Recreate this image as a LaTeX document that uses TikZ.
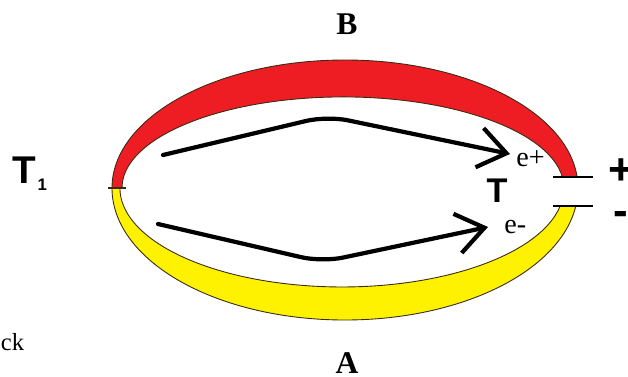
\documentclass[tikz,border=0pt]{standalone}
\usepackage{fontspec}
\setmainfont{Liberation Serif}
\newfontfamily\armfont{Liberation Sans}
\usetikzlibrary{arrows.meta}
\definecolor{ringred}{HTML}{EE1D23}
\definecolor{ringyellow}{HTML}{FFF200}
\definecolor{rimline}{HTML}{3A2A14}

\begin{document}
\begin{tikzpicture}[x=0.02cm, y=0.02cm,
  >={Straight Barb[length=0.55cm, width=0.8cm]},
  band/.style={draw=rimline, line width=0.5pt},
  flow/.style={black, line width=2.4pt, line cap=round, line join=round, rounded corners=12pt, ->},
  plate/.style={black, line width=1.7pt}]

% Frame (picture size 628 x 376)
\useasboundingbox (0,0) rectangle (628,376);

% Red half of the ring (B side)
% outer: centre (345,188), 233 x 128 ; inner: centre (343,188), 221 x 91
\filldraw[band, fill=ringred]
  (112,188) arc[start angle=180, end angle=4.9, x radius=233, y radius=128]
  -- (562.4,199) arc[start angle=6.9, end angle=180, x radius=221, y radius=91] -- cycle;

% Yellow half of the ring (A side)
% outer: 233 x 132 ; inner: 222 x 99
\filldraw[band, fill=ringyellow]
  (112,188) arc[start angle=180, end angle=352.2, x radius=233, y radius=132]
  -- (560.2,170) arc[start angle=349.5, end angle=180, x radius=222, y radius=99] -- cycle;

% Junction T1 mark
\draw[rimline, line width=0.6pt] (108,188) -- (126,188);

% Plates at junction T
\draw[plate] (553,199) -- (593,199);
\draw[plate] (553,170) -- (593,170);

% Carrier paths
\coordinate (upA) at (163,221);
\coordinate (upB) at (327,260);
\coordinate (upC) at (510,222);
\draw[flow] (upA) -- (upB) -- (upC);

\coordinate (loA) at (158,152);
\coordinate (loB) at (322,114);
\coordinate (loC) at (488,149);
\draw[flow] (loA) -- (loB) -- (loC);

% Labels
\node[anchor=base, inner sep=0pt] (labB) at (347,341) {\fontsize{18}{20}\selectfont\bfseries B};
\node[anchor=base, inner sep=0pt] (labA) at (347,3) {\fontsize{18}{20}\selectfont\bfseries A};
\node[anchor=base west, inner sep=0pt] (labck) at (0.5,26) {\fontsize{14}{16}\selectfont ck};

\node[anchor=base west, inner sep=0pt] (labTone) at (12,193)
  {\armfont\bfseries\fontsize{22}{24}\selectfont T\kern1pt\raisebox{-4pt}{\fontsize{9.5}{10}\selectfont 1}};
\node[anchor=base, inner sep=0pt] (labT) at (497,174)
  {\armfont\bfseries\fontsize{19.5}{21}\selectfont T};

\node[anchor=base west, inner sep=0pt] (labep) at (516,210) {\fontsize{16}{18}\selectfont e+};
\node[anchor=base west, inner sep=0pt] (labem) at (504,143) {\fontsize{16}{18}\selectfont e-};

\node[anchor=base west, inner sep=0pt] (labplus) at (608,192) {\armfont\bfseries\fontsize{25}{27}\selectfont +};
\node[anchor=base west, inner sep=0pt] (labminus) at (613,151) {\armfont\bfseries\fontsize{25}{27}\selectfont -};

\end{tikzpicture}
\end{document}
